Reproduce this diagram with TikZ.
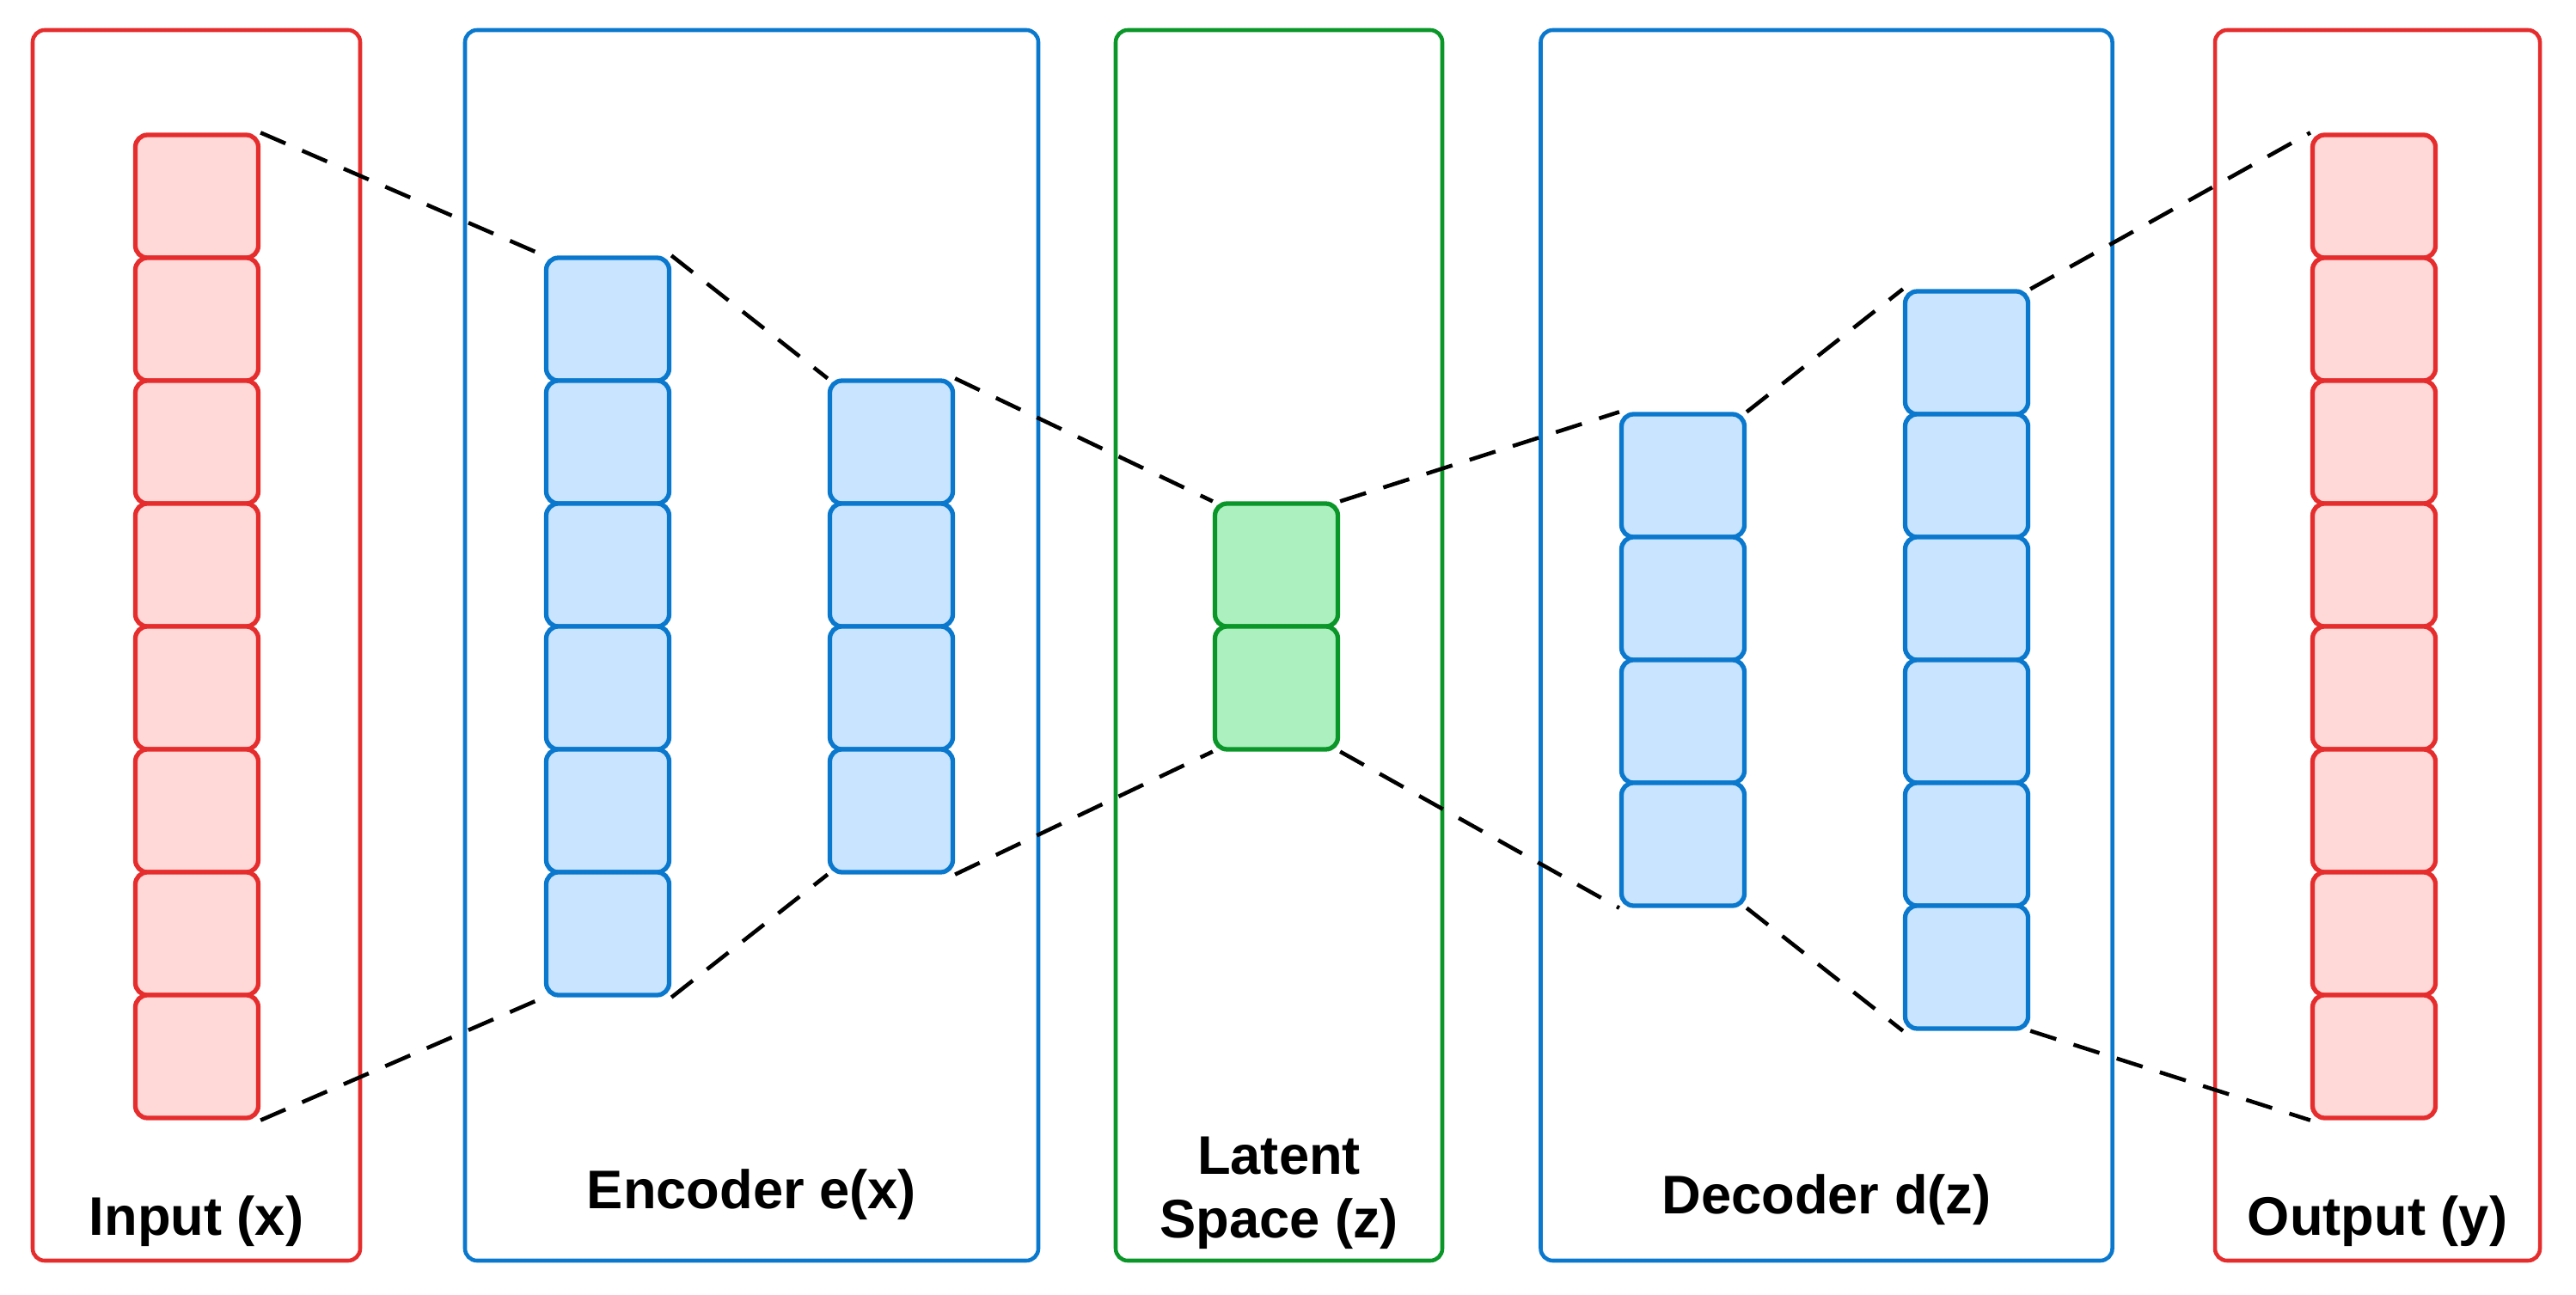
\documentclass[tikz,border=0pt]{standalone}
\usepackage{fontspec}
\setmainfont{Liberation Sans}
\usepackage{xcolor}
\usetikzlibrary{positioning,calc}

\definecolor{inred}{RGB}{230,45,45}
\definecolor{inredfill}{RGB}{255,216,216}
\definecolor{encblue}{RGB}{10,120,205}
\definecolor{encbluefill}{RGB}{200,228,255}
\definecolor{latgreen}{RGB}{10,150,40}
\definecolor{latgreenfill}{RGB}{172,240,192}

% one column of n cells, centred at (x, y)
\newcommand{\layer}[5]{%
  \foreach \i in {1,...,#2}{
    \pgfmathsetmacro{\cy}{#4 + #2*0.715 - (\i-0.5)*1.43}
    \node[cell, #5] (#1\i) at (#3,\cy) {};
  }
}

\begin{document}
\begin{tikzpicture}[
    cell/.style={rectangle, draw, line width=1.5pt, rounded corners=4pt, minimum width=1.43cm, minimum height=1.43cm, inner sep=0pt},
    incell/.style={draw=inred, fill=inredfill},
    enccell/.style={draw=encblue, fill=encbluefill},
    latcell/.style={draw=latgreen, fill=latgreenfill},
    frame/.style={rectangle, line width=1.3pt, rounded corners=4pt, inner sep=0pt, minimum height=14.32cm},
    label/.style={font=\fontsize{18}{21}\selectfont\bfseries, align=center},
    link/.style={draw, dashed, line width=1.3pt, dash pattern=on 9pt off 6pt}
]
    \useasboundingbox (0,0) rectangle (29.97,15.06);

    % frames
    \node[frame, draw=inred, minimum width=3.81cm] (inframe) at (2.285,7.55) {};
    \node[frame, draw=encblue, minimum width=6.67cm] (encframe) at (8.745,7.55) {};
    \node[frame, draw=latgreen, minimum width=3.80cm] (latframe) at (14.88,7.55) {};
    \node[frame, draw=encblue, minimum width=6.65cm] (decframe) at (21.25,7.55) {};
    \node[frame, draw=inred, minimum width=3.78cm] (outframe) at (27.66,7.55) {};

    % layers
    \layer{in}{8}{2.29}{7.77}{incell}
    \layer{enca}{6}{7.07}{7.77}{enccell}
    \layer{encb}{4}{10.37}{7.77}{enccell}
    \layer{lat}{2}{14.85}{7.77}{latcell}
    \layer{deca}{4}{19.58}{7.38}{enccell}
    \layer{decb}{6}{22.88}{7.38}{enccell}
    \layer{out}{8}{27.62}{7.77}{incell}

    % dashed links
    \path[link] (in1.north east) -- (enca1.north west);
    \path[link] (in8.south east) -- (enca6.south west);
    \path[link] (enca1.north east) -- (encb1.north west);
    \path[link] (enca6.south east) -- (encb4.south west);
    \path[link] (encb1.north east) -- (lat1.north west);
    \path[link] (encb4.south east) -- (lat2.south west);
    \path[link] (lat1.north east) -- (deca1.north west);
    \path[link] (lat2.south east) -- (deca4.south west);
    \path[link] (deca1.north east) -- (decb1.north west);
    \path[link] (deca4.south east) -- (decb6.south west);
    \path[link] (decb1.north east) -- (out1.north west);
    \path[link] (decb6.south east) -- (out8.south west);

    % labels
    \node[label] (inlabel) at (2.285,0.85) {Input (x)};
    \node[label] (enclabel) at (8.745,1.16) {Encoder e(x)};
    \node[label] (latlabel) at (14.88,1.18) {Latent\\Space (z)};
    \node[label] (declabel) at (21.25,1.10) {Decoder d(z)};
    \node[label] (outlabel) at (27.66,0.85) {Output (y)};
\end{tikzpicture}
\end{document}
